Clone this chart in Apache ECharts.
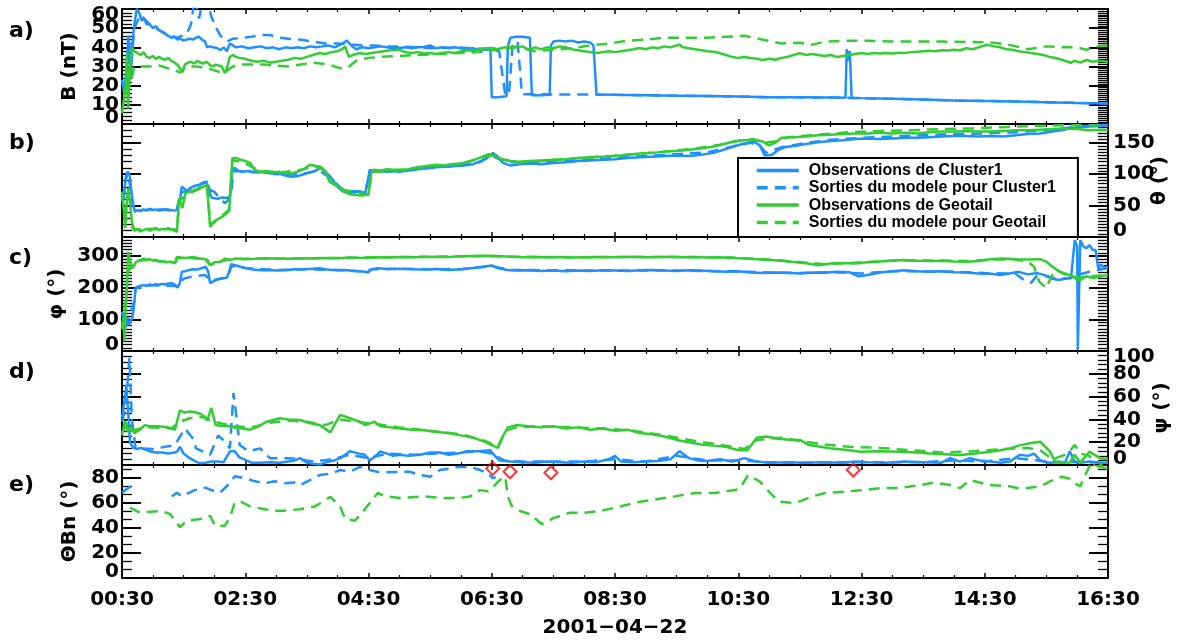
<!DOCTYPE html>
<html><head><meta charset="utf-8">
<script src="https://cdn.jsdelivr.net/npm/echarts@6/dist/echarts.min.js"></script>
<style>html,body{margin:0;padding:0;background:#fff}#c{width:1177px;height:642px}</style>
</head><body><div id="c"></div><script>
// ---- names / labels ----
const seriesNames = ['Observations de Cluster1','Sorties du modele pour Cluster1','Observations de Geotail','Sorties du modele pour Geotail'];
const panelLetters = ['a)','b)','c)','d)','e)'];
const yNames = ['B (nT)','θ (°)','φ (°)','ψ (°)','ΘBn (°)'];
const dateLabel = '2001−04−22';
const xRange = [0.5, 16.5]; // hours of the day (00:30 .. 16:30)

// ---- panel a : B (nT) ----
const c1B = [[0.5,23],[0.53,17],[0.56,18],[0.58,30],[0.6,46],[0.62,40],[0.64,24],[0.66,40],[0.7,52],[0.74,60],[0.78,58],[0.82,54],[0.86,55],[0.9,52],[0.95,52],[1.0,50],[1.05,51],[1.1,49],[1.15,48],[1.2,47],[1.25,46],[1.3,45],[1.35,45.5],[1.4,44],[1.45,44.5],[1.5,43.5],[1.55,44],[1.6,44.5],[1.65,44],[1.7,45],[1.75,45.5],[1.8,44],[1.85,43],[1.88,40],[1.92,40.5],[1.98,40],[2.05,39.5],[2.1,38.5],[2.15,40],[2.2,38],[2.25,42],[2.3,41],[2.35,40],[2.45,40.5],[2.55,39.5],[2.65,40],[2.75,40.5],[2.85,39.5],[2.95,40],[3.05,39],[3.15,40],[3.25,39.5],[3.35,40],[3.45,39.5],[3.55,40.5],[3.65,40],[3.75,40.5],[3.85,41],[3.95,40],[4.05,41.5],[4.15,43.5],[4.22,41],[4.3,39],[4.4,40],[4.5,39.5],[4.6,40],[4.7,40.5],[4.8,40],[4.9,39.5],[5.0,39.7],[5.1,40],[5.2,39.5],[5.3,40],[5.4,40.2],[5.5,41],[5.6,39.5],[5.7,40],[5.8,39.5],[5.9,40],[6.0,39.5],[6.1,39],[6.2,39.5],[6.3,38.5],[6.4,39],[6.48,38.5],[6.5,14],[6.6,14],[6.74,14.5],[6.76,40],[6.8,45],[6.9,45.5],[7.0,45.5],[7.12,45],[7.15,15],[7.3,15],[7.44,15.3],[7.46,41],[7.5,43],[7.6,43.5],[7.7,43],[7.8,43.5],[7.9,42.5],[8.0,43],[8.1,42.5],[8.15,41],[8.2,15.4],[8.5,15.2],[9,15],[9.5,14.8],[10,14.6],[10.5,14.3],[11,14],[11.5,14],[12.0,13.8],[12.24,13.7],[12.26,39],[12.29,33],[12.31,38],[12.34,13.6],[12.5,13.5],[13,13.2],[13.5,12.8],[14,12.3],[14.5,12],[15,11.7],[15.5,11.4],[16,11],[16.5,10.7]];
const c1Bm = [[0.5,22],[0.55,18],[0.6,40],[0.65,30],[0.7,50],[0.8,57],[0.95,52],[1.1,49],[1.25,46.5],[1.4,45],[1.55,47],[1.62,52],[1.68,66],[1.75,55],[1.85,70],[1.95,56],[2.03,50],[2.1,46],[2.2,43],[2.3,44.5],[2.45,45],[2.6,45.5],[2.75,46.5],[2.9,46.5],[3.05,45],[3.2,44.5],[3.4,44],[3.6,43],[3.8,42],[4.0,42],[4.2,41.5],[4.4,41],[4.6,41],[4.8,40.5],[5.0,40.5],[5.3,40],[5.6,39.5],[5.9,40],[6.2,39.5],[6.45,39],[6.62,38],[6.72,15],[6.78,16],[6.84,42],[6.92,43],[6.99,15.5],[7.2,15.5],[7.6,15.4],[8.0,15.4],[8.3,15.3],[9,15],[10,14.6],[11,14],[12,13.8],[13,13.2],[14,12.3],[15,11.7],[16,11],[16.5,10.7]];
const gB = [[0.5,5.5],[0.53,6],[0.56,20],[0.58,37],[0.6,8],[0.63,30],[0.66,40],[0.7,38],[0.75,37],[0.8,36],[0.85,37.5],[0.9,35],[0.95,34.5],[1.0,35.5],[1.05,34],[1.1,35],[1.15,34],[1.2,33.5],[1.25,34.5],[1.3,33],[1.35,32],[1.4,31],[1.44,29],[1.48,27],[1.52,31],[1.57,32],[1.62,32.5],[1.67,31.5],[1.72,33],[1.77,32],[1.82,31.5],[1.87,32.5],[1.92,31],[1.97,30],[2.02,31],[2.07,30.5],[2.12,30],[2.17,26.5],[2.2,29],[2.25,35],[2.3,36],[2.35,35],[2.4,34.5],[2.5,34],[2.6,33],[2.7,32.5],[2.8,33],[2.9,32],[3.0,32.5],[3.1,33],[3.2,33.5],[3.3,34.5],[3.4,34],[3.5,35],[3.6,36],[3.7,37],[3.8,36.5],[3.9,37.5],[4.0,38],[4.07,39],[4.12,40.5],[4.18,35],[4.25,36],[4.35,37],[4.45,36.5],[4.55,37],[4.65,37.5],[4.75,38],[4.85,38.5],[5.0,38.7],[5.1,37.5],[5.2,37],[5.3,37.5],[5.4,36.8],[5.5,37],[5.6,36.5],[5.7,37],[5.8,37.5],[5.9,37],[6.0,38],[6.1,38.5],[6.2,38],[6.3,39],[6.4,39.5],[6.5,39.7],[6.6,39],[6.7,40],[6.8,39.5],[6.9,40],[7.0,40.5],[7.1,38.7],[7.2,40],[7.3,39],[7.4,40],[7.5,39.5],[7.6,40.5],[7.7,40],[7.8,39],[7.9,38.5],[8.0,38],[8.1,37.5],[8.2,37],[8.3,37.5],[8.4,38],[8.5,37.5],[8.6,38],[8.7,38.5],[8.8,39],[8.9,39.7],[9.0,39],[9.1,40],[9.2,39.5],[9.3,40.5],[9.4,40],[9.5,41],[9.55,41.3],[9.6,40],[9.7,39.5],[9.8,39],[9.9,38.5],[10.0,38],[10.1,37.7],[10.2,37],[10.3,36],[10.4,35],[10.5,34.5],[10.6,35],[10.7,34.4],[10.8,34],[10.9,33.4],[11.0,34],[11.1,33.5],[11.2,34.5],[11.3,35],[11.4,36],[11.5,37],[11.6,36],[11.7,36.5],[11.8,36],[11.9,35.5],[12.0,36],[12.1,35],[12.2,35.5],[12.3,36],[12.4,36.5],[12.5,37],[12.6,36.5],[12.7,37],[12.8,36.8],[12.9,37],[13.0,36.8],[13.1,37.2],[13.2,37],[13.3,37.5],[13.4,37.7],[13.5,38],[13.6,38.2],[13.7,38],[13.8,38.5],[13.9,38.3],[14.0,38.7],[14.1,38.5],[14.2,39.5],[14.3,39],[14.4,40],[14.5,41],[14.55,41.3],[14.65,40.5],[14.75,40],[14.85,39],[14.95,38.7],[15.05,38],[15.15,37.5],[15.25,37],[15.35,36.5],[15.45,36],[15.55,35],[15.65,34.4],[15.75,33.5],[15.85,32.5],[15.9,31.8],[15.95,33],[16.05,32],[16.15,33.4],[16.25,32.5],[16.35,33],[16.5,32.5]];
const gBm = [[0.58,15],[0.62,20],[0.66,24],[0.7,30],[0.8,30],[0.95,30],[1.1,30.5],[1.25,29],[1.35,28],[1.44,27],[1.55,30],[1.7,30],[1.85,29.5],[2.0,28],[2.15,26.5],[2.3,30],[2.45,31],[2.6,31],[2.8,31],[3.0,30.5],[3.2,30],[3.4,31],[3.6,32],[3.85,31],[4.05,29],[4.15,29],[4.3,33],[4.5,34.5],[4.7,35],[5.0,35.5],[5.3,36],[5.6,36.5],[6.0,37],[6.3,37.5],[6.6,39],[6.9,40.5],[7.2,38],[7.5,38.7],[7.8,39.5],[8.1,41],[8.4,42],[8.7,43.5],[9.0,44],[9.3,45],[9.7,45],[10.0,45],[10.3,45.5],[10.6,46],[10.9,44],[11.2,42],[11.5,42.4],[11.7,41.3],[11.9,43],[12.2,43.4],[12.6,43.4],[13.0,43],[13.4,43],[13.8,43],[14.2,42.8],[14.6,42.5],[14.9,41.3],[15.2,39],[15.5,40.5],[15.8,40],[16.0,40],[16.15,38.7],[16.3,40.5],[16.5,41]];

// ---- panel b : theta (deg) ----
const c1T = [[0.5,56],[0.53,62],[0.56,95],[0.59,104],[0.62,100],[0.65,75],[0.68,51],[0.71,40],[0.75,43],[0.8,41],[0.85,44],[0.9,42],[0.95,45],[1.0,43],[1.05,44],[1.1,42],[1.15,43],[1.2,44],[1.25,42.5],[1.3,43],[1.35,42],[1.39,43],[1.44,58],[1.47,80],[1.52,76],[1.56,72],[1.6,78],[1.65,80],[1.7,82],[1.75,83],[1.8,86],[1.85,88],[1.88,91],[1.91,80],[1.94,64],[1.98,62],[2.05,61],[2.12,63],[2.2,62],[2.25,65],[2.29,108],[2.33,110],[2.38,106],[2.45,104],[2.55,105],[2.65,103],[2.75,104],[2.85,102],[2.95,104],[3.05,101],[3.15,98],[3.25,96],[3.35,97],[3.45,100],[3.55,103],[3.65,106],[3.72,110],[3.8,104],[3.88,96],[3.93,90],[3.97,83],[4.02,78],[4.08,73],[4.15,72],[4.25,71],[4.35,72],[4.45,71],[4.49,90],[4.52,107],[4.6,104],[4.7,105],[4.8,104],[4.9,105],[5.0,104],[5.15,106],[5.3,108],[5.45,110],[5.6,111],[5.75,112],[5.9,113],[6.05,114],[6.2,116],[6.35,122],[6.45,128],[6.52,134],[6.6,128],[6.68,118],[6.8,114],[6.95,116],[7.1,117],[7.3,116],[7.5,118],[7.7,119],[7.9,121],[8.1,122],[8.3,123],[8.5,124],[8.7,126],[8.9,127],[9.1,128],[9.3,129],[9.5,130],[9.7,129],[9.9,131],[10.1,134],[10.3,140],[10.45,145],[10.6,149],[10.75,152],[10.85,146],[10.93,130],[11.05,131],[11.15,139],[11.25,143],[11.4,145],[11.6,148],[11.8,151],[12.0,153],[12.2,154],[12.4,156],[12.6,157],[12.8,156],[13.0,157],[13.2,158],[13.4,158],[13.6,159],[13.8,160],[14.0,161],[14.2,161],[14.4,160],[14.6,161],[14.8,160],[15.0,162],[15.2,164],[15.4,165],[15.6,168],[15.8,171],[16.0,175],[16.2,176],[16.4,177],[16.5,178]];
const c1Tm = [[0.5,58],[0.56,92],[0.6,102],[0.66,60],[0.71,42],[1.0,44],[1.39,44],[1.45,70],[1.6,76],[1.88,88],[1.93,75],[2.0,72],[2.1,60],[2.17,54],[2.22,58],[2.27,70],[2.31,105],[2.5,104],[2.8,103],[3.1,99],[3.4,100],[3.7,106],[3.9,92],[4.1,74],[4.45,72],[4.52,104],[5.0,105],[5.5,110],[6.0,114],[6.3,119],[6.5,130],[6.7,120],[7.0,118],[7.5,120],[8.0,123],[8.5,126],[9.0,129],[9.5,132],[10.0,135],[10.4,144],[10.7,150],[10.85,146],[10.95,134],[11.2,143],[11.6,150],[12.0,155],[12.5,158],[13.0,160],[13.5,162],[14.0,164],[14.5,165],[15.0,167],[15.5,170],[16.0,176],[16.5,179]];
const gT = [[0.5,72],[0.53,40],[0.55,14],[0.58,60],[0.6,78],[0.63,55],[0.66,24],[0.7,10],[0.75,12],[0.8,9],[0.85,11],[0.9,13],[0.95,10],[1.0,12],[1.05,14],[1.1,11],[1.15,13],[1.2,12],[1.25,14],[1.3,12],[1.35,10],[1.39,8],[1.43,62],[1.48,46],[1.53,70],[1.6,72],[1.68,75],[1.75,78],[1.82,80],[1.88,83],[1.93,16],[1.98,22],[2.05,28],[2.12,32],[2.2,38],[2.24,42],[2.29,125],[2.35,126],[2.42,123],[2.5,121],[2.58,118],[2.65,107],[2.75,104],[2.85,105],[2.95,103],[3.05,104],[3.15,102],[3.25,101],[3.35,104],[3.45,108],[3.55,115],[3.65,113],[3.72,112],[3.8,105],[3.87,88],[3.95,83],[4.03,80],[4.1,72],[4.2,68],[4.3,67],[4.4,66],[4.5,68],[4.54,100],[4.58,107],[4.7,106],[4.8,108],[4.9,107],[5.0,107],[5.15,108],[5.3,111],[5.45,113],[5.6,115],[5.75,114],[5.9,116],[6.05,118],[6.2,122],[6.35,128],[6.45,132],[6.55,129],[6.65,124],[6.8,121],[6.95,120],[7.1,121],[7.3,122],[7.5,123],[7.7,124],[7.9,126],[8.1,127],[8.3,128],[8.5,129],[8.7,131],[8.9,133],[9.1,134],[9.3,136],[9.5,137],[9.7,139],[9.9,141],[10.1,144],[10.3,149],[10.45,153],[10.6,154],[10.75,155],[10.9,152],[11.0,146],[11.1,150],[11.2,158],[11.4,159],[11.6,160],[11.8,162],[12.0,163],[12.2,164],[12.4,165],[12.6,165],[12.8,166],[13.0,165],[13.2,166],[13.4,165],[13.6,167],[13.8,168],[14.0,168],[14.2,169],[14.4,168],[14.6,168],[14.8,169],[15.0,170],[15.2,170],[15.4,171],[15.6,172],[15.8,173],[16.0,172],[16.2,170],[16.4,171],[16.5,170]];
const gTm = [[0.5,70],[0.55,30],[0.6,20],[0.7,12],[1.0,13],[1.39,12],[1.43,58],[1.6,70],[1.88,82],[1.93,20],[2.1,32],[2.24,44],[2.29,122],[2.45,120],[2.6,112],[2.8,103],[3.1,103],[3.4,107],[3.6,112],[3.75,110],[3.87,90],[4.1,75],[4.5,67],[4.55,103],[5.0,106],[5.5,113],[6.0,117],[6.3,125],[6.45,130],[6.6,126],[6.9,118],[7.3,121],[7.8,125],[8.3,128],[8.8,132],[9.3,136],[9.8,141],[10.2,147],[10.5,153],[10.75,156],[10.9,150],[11.1,152],[11.3,159],[11.8,163],[12.3,167],[12.8,169],[13.3,170],[13.8,172],[14.3,173],[14.8,175],[15.3,177],[15.8,178],[16.2,178],[16.5,178]];

// ---- panel c : phi (deg) ----
const c1P = [[0.5,124],[0.53,90],[0.55,72],[0.58,104],[0.61,82],[0.64,95],[0.67,104],[0.7,150],[0.72,200],[0.78,205],[0.85,208],[0.9,206],[0.95,210],[1.0,208],[1.05,211],[1.1,209],[1.15,212],[1.2,210],[1.25,213],[1.3,214],[1.35,210],[1.4,200],[1.44,215],[1.47,250],[1.52,252],[1.58,255],[1.65,258],[1.72,257],[1.8,262],[1.86,266],[1.9,250],[1.93,214],[1.98,220],[2.05,226],[2.12,230],[2.2,231],[2.24,250],[2.27,274],[2.35,270],[2.42,266],[2.5,262],[2.6,258],[2.7,256],[2.8,255],[2.9,256],[3.0,254],[3.1,255],[3.2,256],[3.3,258],[3.45,258],[3.6,260],[3.7,261],[3.8,258],[3.9,256],[4.0,255],[4.1,256],[4.2,254],[4.35,252],[4.45,250],[4.49,248],[4.55,258],[4.65,261],[4.8,259],[5.0,260],[5.2,258],[5.4,257],[5.6,259],[5.8,256],[6.0,258],[6.2,262],[6.35,266],[6.5,270],[6.6,262],[6.75,256],[6.9,254],[7.1,255],[7.3,253],[7.5,254],[7.7,252],[7.9,254],[8.1,253],[8.3,255],[8.5,254],[8.7,253],[8.9,255],[9.1,256],[9.3,254],[9.5,253],[9.7,255],[9.9,254],[10.1,252],[10.3,250],[10.5,252],[10.7,248],[10.9,246],[11.1,248],[11.3,247],[11.5,245],[11.7,248],[11.9,247],[12.1,250],[12.3,249],[12.45,236],[12.6,240],[12.8,248],[13.0,252],[13.2,255],[13.4,252],[13.6,250],[13.8,252],[14.0,249],[14.2,248],[14.4,245],[14.6,244],[14.75,240],[14.9,245],[15.05,250],[15.2,242],[15.35,246],[15.5,238],[15.6,228],[15.7,224],[15.8,228],[15.9,230],[15.96,350],[16.0,330],[16.01,5],[16.03,10],[16.05,350],[16.1,330],[16.15,325],[16.2,334],[16.25,320],[16.3,318],[16.34,262],[16.38,272],[16.45,264],[16.5,266]];
const c1Pm = [[0.5,120],[0.6,100],[0.7,160],[0.72,198],[1.0,208],[1.4,205],[1.5,228],[1.65,236],[1.85,240],[1.93,222],[2.2,232],[2.28,268],[2.5,262],[3.0,256],[3.5,258],[4.0,256],[4.45,250],[4.55,258],[5.0,260],[5.5,258],[6.0,258],[6.5,268],[6.8,256],[7.5,255],[8.5,254],[9.5,254],[10.5,251],[11.0,248],[11.5,246],[12.0,249],[12.5,245],[13.0,252],[13.5,252],[14.0,250],[14.5,246],[15.0,244],[15.15,222],[15.25,215],[15.35,238],[15.5,236],[15.7,226],[15.9,232],[16.0,240],[16.2,250],[16.5,262]];
const gP = [[0.5,72],[0.52,104],[0.54,30],[0.56,145],[0.58,200],[0.6,313],[0.63,282],[0.68,262],[0.72,280],[0.79,287],[0.85,292],[0.9,288],[0.95,290],[1.0,285],[1.05,288],[1.1,282],[1.15,284],[1.2,280],[1.28,282],[1.36,277],[1.39,297],[1.45,295],[1.55,294],[1.65,297],[1.75,293],[1.85,290],[1.88,287],[1.93,271],[2.0,280],[2.1,282],[2.17,292],[2.25,287],[2.35,292],[2.5,290],[2.65,291],[2.8,293],[3.0,292],[3.2,291],[3.4,293],[3.6,292],[3.8,294],[4.0,293],[4.2,295],[4.4,294],[4.6,296],[4.8,295],[5.0,297],[5.2,296],[5.4,297],[5.6,298],[5.8,297],[6.0,299],[6.2,300],[6.4,301],[6.6,300],[6.8,298],[7.0,296],[7.2,297],[7.4,296],[7.6,297],[7.8,295],[8.0,296],[8.2,297],[8.4,296],[8.6,297],[8.8,298],[9.0,296],[9.2,297],[9.4,298],[9.6,296],[9.8,297],[10.0,295],[10.2,296],[10.4,294],[10.6,292],[10.8,290],[11.0,287],[11.2,285],[11.4,281],[11.6,277],[11.8,271],[12.0,276],[12.2,278],[12.4,276],[12.6,280],[12.8,283],[13.0,286],[13.2,287],[13.4,285],[13.6,284],[13.8,285],[14.0,283],[14.2,282],[14.4,284],[14.6,290],[14.8,292],[15.0,290],[15.2,289],[15.4,290],[15.5,282],[15.6,266],[15.7,252],[15.8,245],[15.9,238],[16.0,226],[16.05,224],[16.15,236],[16.25,230],[16.35,234],[16.45,238],[16.5,240]];
const gPm = [[0.5,70],[0.56,160],[0.6,250],[0.66,272],[0.75,284],[0.9,288],[1.1,284],[1.36,279],[1.4,293],[1.6,294],[1.88,289],[1.93,272],[2.1,283],[2.25,289],[2.5,291],[2.8,292],[3.2,292],[3.6,293],[4.0,294],[4.4,295],[4.8,296],[5.2,297],[5.6,298],[6.0,299],[6.4,300],[6.8,298],[7.2,297],[7.6,296],[8.0,296],[8.4,297],[8.8,297],[9.2,297],[9.6,297],[10.0,296],[10.4,295],[10.8,291],[11.2,286],[11.6,279],[11.9,274],[12.2,277],[12.6,281],[13.0,285],[13.4,286],[13.8,286],[14.2,284],[14.6,289],[15.0,289],[15.2,282],[15.3,266],[15.38,220],[15.5,198],[15.56,226],[15.65,258],[15.8,242],[16.0,232],[16.2,236],[16.5,240]];

// ---- panel d : psi (deg) ----
const c1S = [[0.5,42],[0.55,60],[0.57,70],[0.6,47],[0.63,20],[0.68,15],[0.75,14],[0.8,15],[0.9,13],[0.95,12],[1.05,11],[1.15,11],[1.25,10],[1.35,11],[1.4,12],[1.44,16],[1.5,10],[1.6,6],[1.7,3],[1.77,1.5],[1.85,2],[1.95,3],[2.05,3],[2.15,2.5],[2.25,12],[2.33,12],[2.4,7],[2.5,4.5],[2.6,2],[2.75,2],[2.9,2.5],[3.05,2],[3.2,3],[3.3,4],[3.39,6],[3.5,2],[3.6,1],[3.72,0.5],[3.85,3],[3.95,4],[4.04,6],[4.2,12],[4.35,10],[4.44,9],[4.52,4],[4.62,8],[4.69,12],[4.8,10],[4.9,8],[5.0,9],[5.15,8],[5.34,9],[5.5,11],[5.66,11],[5.8,9],[5.95,10],[6.1,12],[6.3,12],[6.47,13],[6.55,8],[6.63,4],[6.8,3],[7.0,2.5],[7.2,2],[7.4,3],[7.6,2.5],[7.8,2],[8.0,3],[8.2,2.5],[8.4,5],[8.5,8],[8.6,3],[8.8,2.5],[9.0,3],[9.2,3.5],[9.4,5],[9.55,12],[9.7,6],[9.85,4],[10.0,3.5],[10.2,5],[10.4,3],[10.6,6],[10.8,3],[11.0,2],[11.3,2.5],[11.6,2],[11.9,2.5],[12.2,2],[12.4,3],[12.6,2.5],[12.9,2],[13.2,3],[13.5,2.5],[13.8,2],[13.94,6],[14.1,3],[14.26,6],[14.42,4],[14.6,3],[14.75,2],[14.91,3],[15.07,9],[15.2,8],[15.3,10],[15.4,4],[15.55,2],[15.7,2.5],[15.8,2],[15.88,12],[15.96,3],[16.05,2],[16.2,3],[16.35,2],[16.5,2]];
const c1Sm = [[0.5,38],[0.56,50],[0.62,94],[0.66,40],[0.72,15],[1.0,14],[1.36,17.5],[1.52,32],[1.67,22],[1.7,14.6],[1.93,9],[2.06,26],[2.22,17.5],[2.25,14.6],[2.31,63],[2.36,41],[2.41,17.5],[2.55,12],[2.74,14.6],[2.9,6],[3.2,6],[3.39,5],[3.6,3],[3.9,5],[4.2,9],[4.5,6],[4.8,10],[5.2,9],[5.6,10],[6.0,11],[6.3,12],[6.5,10],[6.7,4],[7.0,3],[7.5,3],[8.0,3],[8.5,5],[9.0,3],[9.5,8],[10.0,4],[10.5,4],[11.0,2.5],[11.5,2],[12.0,2.5],[12.5,2.5],[13.0,2.5],[13.5,2.5],[14.0,4],[14.5,3],[15.0,6],[15.5,3],[16.0,2.5],[16.5,2]];
const gS = [[0.5,26],[0.55,39],[0.6,29],[0.64,34],[0.7,28],[0.79,31],[0.87,35],[0.95,34],[1.1,34],[1.25,33],[1.36,31],[1.44,48],[1.52,46],[1.6,47],[1.7,46],[1.77,45],[1.85,42],[1.88,39],[1.95,50],[2.02,35],[2.1,34.5],[2.25,34],[2.35,32.5],[2.45,32],[2.58,31],[2.72,34],[2.85,38],[3.06,41],[3.2,40],[3.39,39.5],[3.55,36.5],[3.71,35],[3.88,28.6],[4.04,44],[4.2,41],[4.35,38],[4.45,35],[4.6,38],[4.69,34],[4.85,33],[5.0,32],[5.2,31],[5.4,30.5],[5.6,29],[5.8,28],[6.0,26],[6.2,24],[6.4,20],[6.5,17.5],[6.6,15],[6.68,25],[6.76,33],[6.9,35],[7.1,34],[7.3,33],[7.5,34],[7.7,32],[7.9,33],[8.1,31],[8.3,32],[8.5,30],[8.7,31],[8.9,28],[9.1,27],[9.3,25],[9.5,22],[9.7,20],[9.9,18],[10.1,17],[10.3,16],[10.5,13],[10.65,13],[10.8,24],[10.95,25],[11.15,23],[11.35,22],[11.5,22],[11.65,17.5],[11.99,14.6],[12.3,13],[12.48,11.7],[12.8,12],[13.13,11.7],[13.4,11],[13.61,10],[13.85,9.5],[14.1,8.8],[14.35,10],[14.59,11.7],[14.75,13],[14.91,14.6],[15.05,17],[15.23,19],[15.4,20.4],[15.56,11.7],[15.64,3],[15.75,2.5],[15.88,2],[15.96,9],[16.05,2],[16.2,11.7],[16.37,6],[16.5,5]];
const gSm = [[0.5,28],[0.58,36],[0.65,30],[0.8,32],[1.0,33],[1.3,32],[1.44,38],[1.6,41],[1.8,42],[2.0,38],[2.3,34],[2.6,33],[2.9,37],[3.2,39],[3.5,38],[3.8,35],[4.04,40],[4.3,38],[4.6,36],[5.0,33],[5.5,30],[6.0,27],[6.4,21],[6.6,16],[6.72,30],[6.9,33],[7.3,34],[7.8,33],[8.3,32],[8.8,30],[9.3,26],[9.8,21],[10.3,17],[10.6,14],[10.8,22],[11.2,24],[11.5,21],[11.9,18],[12.3,16],[12.8,15],[13.3,13],[13.8,11],[14.3,12],[14.8,14],[15.2,15],[15.4,13],[15.6,5],[15.85,10],[15.96,17.5],[16.05,10],[16.2,8],[16.29,-2],[16.4,0],[16.5,-1]];

// ---- panel e : ThetaBn (deg), model only ----
const c1Bn = [[0.5,68],[0.64,73],[0.9,'-'],[1.31,65],[1.39,68],[1.47,65],[1.68,70],[1.85,72],[2.01,69],[2.09,68],[2.25,75.5],[2.33,81],[2.5,79.4],[2.66,77],[2.82,75.5],[2.98,77],[3.15,75.5],[3.31,76],[3.39,74],[3.55,78],[3.71,82],[3.88,83],[4.04,86],[4.2,84.6],[4.36,88.5],[4.52,86],[4.69,84],[5.01,84.6],[5.17,84.6],[5.34,82],[5.5,80.7],[5.66,86],[5.98,88.5],[6.15,88.5],[6.31,86],[6.44,83],[6.52,79.4],[6.56,80.7]];
const gBn = [[0.63,56],[0.79,52],[1.12,53.4],[1.28,51],[1.44,40.4],[1.55,45.6],[1.77,47],[1.93,49.5],[2.01,41.7],[2.17,41.7],[2.25,48],[2.33,60],[2.42,61],[2.58,57],[2.82,54.7],[3.06,53.4],[3.39,54.7],[3.63,57],[3.88,64.6],[4.04,57],[4.12,47],[4.28,45.6],[4.44,54.7],[4.65,67.7],[4.77,65],[5.01,63.8],[5.42,65],[5.66,63.8],[5.98,63.8],[6.15,65],[6.31,70],[6.44,69],[6.55,74],[6.63,78],[6.72,80.7],[6.76,65],[6.83,57],[6.96,53.4],[7.12,50.8],[7.31,43],[7.52,48],[7.77,52],[8.01,52],[8.26,53.4],[8.5,56],[8.83,60],[9.15,62.5],[9.47,65],[9.8,67.7],[10.12,67.7],[10.45,70],[10.53,71.6],[10.66,82],[10.85,76.8],[11.02,67.7],[11.15,61],[11.34,60],[11.5,61],[11.7,65],[11.91,67.7],[12.15,68.5],[12.48,69.8],[12.8,71.6],[13.12,71.6],[13.45,74],[13.69,76],[13.94,74],[14.1,71.6],[14.26,78],[14.58,74],[14.91,73],[15.07,71],[15.4,73],[15.56,77],[15.75,80.7],[15.88,79],[15.96,75.5],[16.05,73],[16.13,82],[16.21,90],[16.37,88.5],[16.5,87]];
const crossings = [[6.515,87.3],[6.796,84.6],[7.461,83.8],[12.367,86]];

// ---- build ----
const BLUE = '#1e90ff', GREEN = '#32cd32';
const TXT = 'DejaVu Sans';
const pad2 = n => String(n).padStart(2, '0');
const fmtTime = v => { const h = Math.floor(v + 1e-6); const m = Math.round((v - h) * 60); return pad2(h) + ':' + pad2(m); };

const panels = [
  {top: 9,   h: 115, min: 0, max: 60,  iv: 10,  lab: 'left',  gap: 42, mL: 5,  mR: 10, s: [c1B, c1Bm, gB, gBm]},
  {top: 124, h: 113, min: 0, max: 180, iv: 50,  lab: 'right', gap: 42, mL: 5,  mR: 10, s: [c1T, c1Tm, gT, gTm]},
  {top: 237, h: 114, min: 0, max: 360, iv: 100, lab: 'left',  gap: 55, mL: 10, mR: 10, s: [c1P, c1Pm, gP, gPm]},
  {top: 351, h: 114, min: 0, max: 100, iv: 20,  lab: 'right', gap: 44, mL: 4,  mR: 5,  s: [c1S, c1Sm, gS, gSm]},
  {top: 465, h: 113, min: 0, max: 90,  iv: 20,  lab: 'left',  gap: 42, mL: 3,  mR: 3,  s: [null, c1Bn, null, gBn]}
];

const grid = [], xAxis = [], yAxis = [], extraY = [], series = [];
const axLine = {show: true, onZero: false, lineStyle: {color: '#000', width: 2}};
const labFont = {fontFamily: TXT, fontWeight: 'bold', fontSize: 20, color: '#000'};

panels.forEach((p, i) => {
  grid.push({left: 122, right: 69, top: p.top, height: p.h, outerBoundsMode: 'none', containLabel: false});
  const last = i === panels.length - 1;
  ['bottom', 'top'].forEach(pos => {
    const ax = {
      type: 'value', gridIndex: i, position: pos, min: xRange[0], max: xRange[1], interval: 2,
      axisLine: axLine, splitLine: {show: false},
      axisTick: {show: true, inside: true, length: 5, lineStyle: {color: '#000', width: 1.5}},
      minorTick: {show: true, splitNumber: 4, length: 3, lineStyle: {color: '#000', width: 1.2}},
      axisLabel: {show: false}
    };
    if (last && pos === 'bottom') {
      ax.axisLabel = Object.assign({show: true, margin: 12, formatter: fmtTime, showMinLabel: true, showMaxLabel: true, hideOverlap: false}, labFont);
      ax.name = dateLabel; ax.nameLocation = 'middle'; ax.nameGap = 40;
      ax.nameTextStyle = Object.assign({}, labFont);
    }
    xAxis.push(ax);
  });
  ['left', 'right'].forEach(pos => {
    const showLab = pos === p.lab;
    const margin = pos === 'left' ? 3 : 5;
    // main axis: line, ticks and the inner tick labels
    const ay = {
      type: 'value', gridIndex: i, position: pos, min: p.min, max: p.max, interval: p.iv,
      axisLine: axLine, splitLine: {show: false},
      axisTick: {show: true, inside: true, length: 19, lineStyle: {color: '#000', width: 2}},
      minorTick: {show: true, splitNumber: pos === 'left' ? p.mL : p.mR, length: 10, lineStyle: {color: '#000', width: 1.3}},
      axisLabel: Object.assign({show: showLab, margin, lineHeight: 12,
        showMaxLabel: false, showMinLabel: false, hideOverlap: false}, labFont)
    };
    if (showLab) {
      ay.name = yNames[i]; ay.nameLocation = 'middle'; ay.nameRotate = 90; ay.nameGap = p.gap;
      ay.nameMoveOverlap = false;
      ay.nameTextStyle = Object.assign({}, labFont);
      // companion axis: only the end labels (min, and max when it is a tick value)
      extraY.push({
        type: 'value', gridIndex: i, position: pos, min: p.min, max: p.max, interval: p.iv,
        axisLine: {show: false}, axisTick: {show: false}, minorTick: {show: false}, splitLine: {show: false},
        axisLabel: Object.assign({show: true, margin, lineHeight: 12, showMinLabel: true, showMaxLabel: true, hideOverlap: false,
          verticalAlignMinLabel: 'bottom', verticalAlignMaxLabel: 'top',
          formatter: v => (v === p.min || (v === p.max && p.max % p.iv === 0)) ? String(v) : ''}, labFont)
      });
    }
    yAxis.push(ay);
  });
  p.s.forEach((d, k) => {
    if (!d) return;
    const col = k < 2 ? BLUE : GREEN;
    series.push({
      type: 'line', name: seriesNames[k], xAxisIndex: 2 * i, yAxisIndex: 2 * i, data: d,
      symbol: 'none', showSymbol: false, clip: true, animation: false, z: 2 + k,
      lineStyle: {color: col, width: 2.5, type: k % 2 ? [11, 7] : 'solid'},
      itemStyle: {color: col}
    });
  });
});
series.push({
  type: 'scatter', name: 'crossings', xAxisIndex: 8, yAxisIndex: 8, data: crossings,
  symbol: 'diamond', symbolSize: [13, 13], animation: false, z: 10,
  itemStyle: {color: 'rgba(0,0,0,0)', borderColor: '#ff0000', borderWidth: 2}
});

const letterY = [31, 143, 258, 372, 485];
const graphic = panelLetters.map((t, i) => ({
  type: 'text', x: 9, y: letterY[i],
  style: {text: t, font: 'bold 22px "DejaVu Sans"', fill: '#000', textVerticalAlign: 'middle'}
}));

const chart = echarts.init(document.getElementById('c'), null, {renderer: 'canvas'});
chart.setOption({
  backgroundColor: '#fff', animation: false,
  grid, xAxis, yAxis: yAxis.concat(extraY), series, graphic,
  legend: {
    data: seriesNames, orient: 'vertical', left: 738, top: 158,
    itemWidth: 42, itemHeight: 10, itemGap: 0.3, padding: [4, 22, 6, 17],
    backgroundColor: '#fff', borderColor: '#000', borderWidth: 2, borderRadius: 0,
    selectedMode: false, z: 20,
    itemStyle: {opacity: 0, borderWidth: 0},
    lineStyle: {width: 3.5},
    textStyle: {fontFamily: 'Liberation Sans', fontWeight: 'bold', fontSize: 16, lineHeight: 17, color: '#000', padding: [0, 0, 0, 5]}
  }
});
</script></body></html>
